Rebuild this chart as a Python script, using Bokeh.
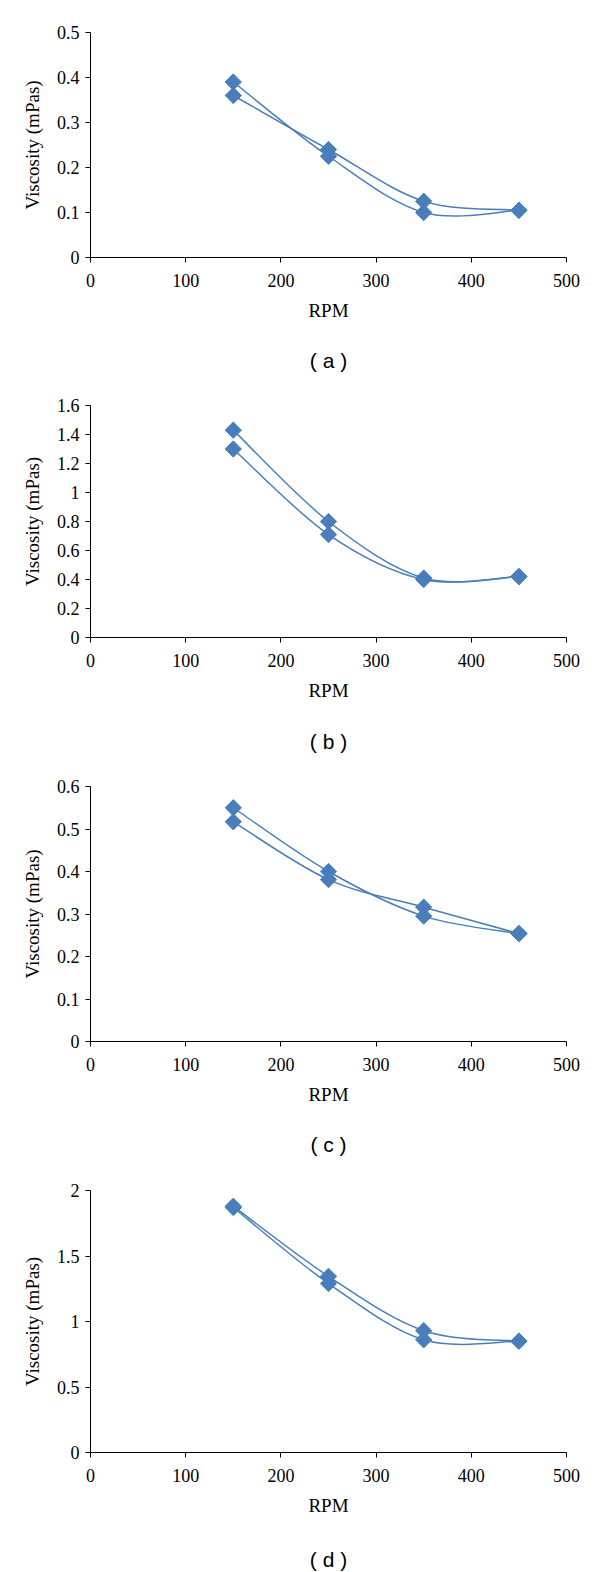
import numpy as np
from bokeh.plotting import figure
from bokeh.layouts import column
from bokeh.models import Range1d, FixedTicker, Title
from bokeh.embed import file_html
from bokeh.resources import INLINE

# ---------------- data ----------------
rpm = [150, 250, 350, 450]

a_s1 = [0.390, 0.225, 0.100, 0.105]
a_s2 = [0.360, 0.240, 0.125, 0.105]

b_s1 = [1.43, 0.80, 0.41, 0.42]
b_s2 = [1.30, 0.71, 0.40, 0.42]

c_s1 = [0.550, 0.400, 0.295, 0.254]
c_s2 = [0.517, 0.381, 0.316, 0.254]

d_s1 = [1.88, 1.345, 0.93, 0.85]
d_s2 = [1.87, 1.29, 0.86, 0.85]

x_ticks = [0, 100, 200, 300, 400, 500]
a_ticks = [0, 0.1, 0.2, 0.3, 0.4, 0.5]
a_labels = ["0", "0.1", "0.2", "0.3", "0.4", "0.5"]
b_ticks = [0, 0.2, 0.4, 0.6, 0.8, 1.0, 1.2, 1.4, 1.6]
b_labels = ["0", "0.2", "0.4", "0.6", "0.8", "1", "1.2", "1.4", "1.6"]
c_ticks = [0, 0.1, 0.2, 0.3, 0.4, 0.5, 0.6]
c_labels = ["0", "0.1", "0.2", "0.3", "0.4", "0.5", "0.6"]
d_ticks = [0, 0.5, 1.0, 1.5, 2.0]
d_labels = ["0", "0.5", "1", "1.5", "2"]

captions = ["( a )", "( b )", "( c )", "( d )"]

BLUE = "#4A7EBB"
SERIF = "Liberation Serif"
SANS = "Liberation Sans"


def smooth_segments(xs, ys):
    """Excel-style smoothed line: cubic Bezier control points."""
    P = np.column_stack([np.asarray(xs, float), np.asarray(ys, float)])
    n = len(P)
    seg = {k: [] for k in ["x0", "y0", "x1", "y1", "cx0", "cy0", "cx1", "cy1"]}
    for i in range(n - 1):
        p0 = P[i - 1] if i > 0 else P[i]
        p1 = P[i]
        p2 = P[i + 1]
        p3 = P[i + 2] if i + 2 < n else P[i + 1]
        c1 = p1 + (p2 - p0) / 6.0
        c2 = p2 - (p3 - p1) / 6.0
        seg["x0"].append(p1[0]); seg["y0"].append(p1[1])
        seg["x1"].append(p2[0]); seg["y1"].append(p2[1])
        seg["cx0"].append(c1[0]); seg["cy0"].append(c1[1])
        seg["cx1"].append(c2[0]); seg["cy1"].append(c2[1])
    return seg


def make_panel(s1, s2, ymax, yt, yl, caption, height, left, right, top, bottom,
               gap, cap_standoff):
    p = figure(width=600, height=height,
               x_range=Range1d(0, 500), y_range=Range1d(0, ymax),
               output_backend="svg", toolbar_location=None,
               min_border_left=left, min_border_right=right,
               min_border_top=top, min_border_bottom=bottom)
    p.outline_line_color = None
    p.xgrid.visible = False
    p.ygrid.visible = False
    p.background_fill_color = "white"
    p.border_fill_color = "white"

    for s in (s1, s2):
        seg = smooth_segments(rpm, s)
        p.bezier(x0=seg["x0"], y0=seg["y0"], x1=seg["x1"], y1=seg["y1"],
                 cx0=seg["cx0"], cy0=seg["cy0"], cx1=seg["cx1"], cy1=seg["cy1"],
                 line_color=BLUE, line_width=1.5)
    for s in (s1, s2):
        p.scatter(rpm, s, marker="square", size=11.5, angle=np.pi / 4,
                  fill_color=BLUE, line_color=BLUE, line_width=1)

    p.xaxis.ticker = FixedTicker(ticks=x_ticks)
    p.xaxis.major_label_overrides = {t: str(t) for t in x_ticks}
    p.yaxis.ticker = FixedTicker(ticks=yt)
    p.yaxis.major_label_overrides = {t: l for t, l in zip(yt, yl)}
    p.xaxis.axis_label = "RPM"
    p.yaxis.axis_label = "Viscosity (mPas)"
    for ax in (p.xaxis, p.yaxis):
        ax.minor_tick_line_color = None
        ax.major_tick_in = 0
        ax.major_tick_out = 5
        ax.axis_line_color = "black"
        ax.major_tick_line_color = "black"
        ax.major_label_text_font = SERIF
        ax.major_label_text_font_size = "18px"
        ax.major_label_text_color = "black"
        ax.axis_label_text_font = SERIF
        ax.axis_label_text_font_size = "19px"
        ax.axis_label_text_font_style = "normal"
        ax.axis_label_text_color = "black"
    p.xaxis.major_label_standoff = 11
    p.xaxis.axis_label_standoff = 10
    p.yaxis.major_label_standoff = 6
    p.yaxis.axis_label_standoff = 11

    # blank spacer between the axis and the caption
    spacer = Title(text=" ", text_font_size="1px", standoff=gap)
    p.add_layout(spacer, "below")
    t = Title(text=caption, align="center", text_font=SANS,
              text_font_size="21px", text_font_style="normal",
              text_color="black", standoff=cap_standoff, offset=-4)
    p.add_layout(t, "below")
    return p


pa = make_panel(a_s1, a_s2, 0.5, a_ticks, a_labels, captions[0],
                380, 90, 34, 32, 123, 15, 10)
pb = make_panel(b_s1, b_s2, 1.6, b_ticks, b_labels, captions[1],
                380, 90, 34, 25, 123, 16, 10)
pc = make_panel(c_s1, c_s2, 0.6, c_ticks, c_labels, captions[2],
                400, 90, 34, 26, 117, 15, 10)
pd = make_panel(d_s1, d_s2, 2.0, d_ticks, d_labels, captions[3],
                412, 90, 34, 30, 118, 22, 4)

layout = column(pa, pb, pc, pd, spacing=0)

open("out.html", "w").write(file_html(layout, INLINE))
